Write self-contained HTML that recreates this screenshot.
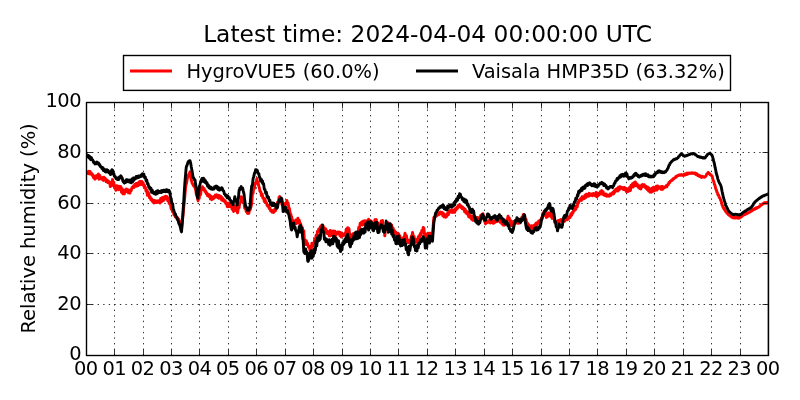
<!DOCTYPE html>
<html><head><meta charset="utf-8"><title>Relative humidity</title>
<style>
html,body{margin:0;padding:0;background:#fff;}
body{width:800px;height:400px;overflow:hidden;}
svg{display:block;}
text{font-family:"DejaVu Sans","Liberation Sans",sans-serif;fill:#000;}
.t{font-size:23.33px;}
.l{font-size:19.44px;}
.k{letter-spacing:-0.55px;}
</style></head><body>
<svg width="800" height="400" viewBox="0 0 800 400">
<rect width="800" height="400" fill="#fff"/>
<g stroke="#000" stroke-width="0.8" stroke-dasharray="1.39 4.17" fill="none"><line x1="114.50" y1="355.5" x2="114.50" y2="102.5"/><line x1="143.50" y1="355.5" x2="143.50" y2="102.5"/><line x1="171.50" y1="355.5" x2="171.50" y2="102.5"/><line x1="199.50" y1="355.5" x2="199.50" y2="102.5"/><line x1="228.50" y1="355.5" x2="228.50" y2="102.5"/><line x1="256.50" y1="355.5" x2="256.50" y2="102.5"/><line x1="285.50" y1="355.5" x2="285.50" y2="102.5"/><line x1="313.50" y1="355.5" x2="313.50" y2="102.5"/><line x1="342.50" y1="355.5" x2="342.50" y2="102.5"/><line x1="370.50" y1="355.5" x2="370.50" y2="102.5"/><line x1="398.50" y1="355.5" x2="398.50" y2="102.5"/><line x1="427.50" y1="355.5" x2="427.50" y2="102.5"/><line x1="455.50" y1="355.5" x2="455.50" y2="102.5"/><line x1="484.50" y1="355.5" x2="484.50" y2="102.5"/><line x1="512.50" y1="355.5" x2="512.50" y2="102.5"/><line x1="541.50" y1="355.5" x2="541.50" y2="102.5"/><line x1="569.50" y1="355.5" x2="569.50" y2="102.5"/><line x1="597.50" y1="355.5" x2="597.50" y2="102.5"/><line x1="626.50" y1="355.5" x2="626.50" y2="102.5"/><line x1="654.50" y1="355.5" x2="654.50" y2="102.5"/><line x1="683.50" y1="355.5" x2="683.50" y2="102.5"/><line x1="711.50" y1="355.5" x2="711.50" y2="102.5"/><line x1="740.50" y1="355.5" x2="740.50" y2="102.5"/><line x1="86.5" y1="304.50" x2="768.5" y2="304.50"/><line x1="86.5" y1="253.50" x2="768.5" y2="253.50"/><line x1="86.5" y1="203.50" x2="768.5" y2="203.50"/><line x1="86.5" y1="152.50" x2="768.5" y2="152.50"/></g>
<clipPath id="c"><rect x="86.5" y="102.5" width="682.0" height="253.0"/></clipPath>
<g clip-path="url(#c)" fill="none" stroke-width="2.9" stroke-linejoin="round" stroke-linecap="butt"><polyline stroke="#f00" points="86.5,172.0 87.5,172.1 87.9,173.6 88.6,171.3 89.3,173.9 90.0,171.5 90.7,174.1 91.2,172.8 92.1,175.2 92.8,174.6 93.5,177.8 94.4,177.9 94.9,179.1 95.6,175.9 96.3,178.2 97.0,175.4 97.5,176.7 98.4,173.9 99.1,179.2 99.8,175.4 100.5,178.7 101.2,177.8 101.9,179.2 102.6,177.5 103.3,180.5 104.0,177.2 105.0,179.8 105.4,178.3 106.1,181.6 106.8,179.8 107.5,182.5 108.2,180.8 108.8,182.8 109.6,182.0 110.3,186.5 111.2,185.9 111.7,185.8 112.5,179.5 113.1,183.7 113.8,182.3 114.5,187.9 115.0,186.9 115.9,190.3 116.6,185.7 117.3,189.0 118.0,186.1 118.7,189.7 119.4,186.3 120.0,188.5 120.8,186.6 121.5,192.3 122.2,188.6 122.9,193.7 123.8,192.5 124.3,193.9 125.0,189.9 125.7,191.8 126.4,189.0 126.9,189.7 127.8,189.6 128.5,192.9 129.4,192.7 129.9,193.1 130.6,189.6 131.3,190.5 132.0,187.5 132.5,187.8 133.4,185.9 134.1,187.5 134.8,184.3 135.5,186.2 136.2,183.5 136.9,186.2 137.5,183.3 138.3,185.6 139.0,181.9 139.7,184.6 140.4,181.3 141.1,184.7 141.8,181.4 142.5,182.7 143.2,182.9 143.9,186.4 144.6,185.5 145.0,187.7 145.3,187.0 146.0,190.9 146.7,190.0 147.4,195.3 148.1,192.0 148.4,195.6 148.8,193.1 149.5,197.8 150.2,196.7 150.9,199.9 151.6,198.8 152.5,201.6 153.0,200.2 153.7,203.0 154.4,200.4 155.1,202.4 155.8,200.9 156.5,202.6 157.2,201.1 157.5,202.1 157.9,201.0 158.6,202.1 159.3,200.4 160.0,203.0 160.7,198.5 161.4,201.9 162.1,197.6 162.5,199.7 162.8,197.5 163.5,200.5 164.2,196.9 164.9,199.1 165.6,196.1 166.2,197.3 167.0,196.5 167.7,200.7 168.4,198.2 169.1,203.4 169.4,200.7 169.8,204.0 170.5,204.9 171.2,209.0 171.9,208.9 172.5,211.7 173.3,211.0 174.0,215.0 174.7,213.4 175.4,216.9 176.2,216.6 176.8,218.5 177.5,217.7 178.2,220.4 178.9,219.3 179.6,221.8 180.0,221.4 180.3,223.5 181.0,226.1 181.5,229.1 182.4,220.3 183.0,215.0 183.8,206.8 184.5,200.1 185.2,191.8 185.6,187.6 185.9,185.5 186.6,182.7 187.5,177.4 188.0,176.6 188.7,174.6 189.4,173.5 190.0,171.8 190.8,177.8 191.2,179.9 192.2,183.3 193.1,184.8 193.6,186.1 194.3,186.1 195.0,187.6 195.7,190.1 196.4,194.8 196.9,196.0 198.1,200.9 198.5,197.7 199.2,198.5 200.0,193.2 200.6,194.7 201.3,187.8 202.0,189.1 202.5,186.7 203.4,189.7 204.1,188.5 205.0,191.5 205.5,190.7 206.2,193.8 206.9,192.8 207.6,195.8 208.3,194.3 208.8,196.5 209.7,195.0 210.4,198.9 211.1,196.1 211.8,199.7 212.5,198.0 213.2,198.8 213.9,196.4 214.6,197.7 215.3,195.1 216.2,195.8 216.7,194.8 217.4,197.5 218.1,195.4 218.8,198.3 219.5,195.6 220.0,197.8 220.9,196.4 221.6,200.1 222.3,197.6 223.0,200.6 223.8,199.6 224.4,201.6 225.1,200.6 225.8,203.6 226.5,202.7 227.2,206.4 227.5,204.6 227.9,206.8 228.6,203.2 229.3,206.5 230.0,203.1 230.7,206.6 231.2,204.6 232.1,209.3 233.1,209.8 233.5,211.5 234.2,205.7 235.0,206.6 235.6,206.3 236.3,210.8 237.0,209.5 237.6,212.9 238.4,207.7 239.1,207.8 239.7,203.1 240.5,202.6 241.2,196.6 241.9,200.5 242.6,197.7 243.1,201.6 244.0,202.5 244.7,208.2 245.4,207.0 246.2,211.5 246.8,210.5 247.5,213.4 248.2,211.4 248.8,213.4 249.6,209.7 250.3,209.7 251.2,206.0 251.7,203.6 252.5,193.1 253.1,193.4 253.8,186.4 254.5,188.3 255.0,183.3 255.9,183.6 256.9,178.5 257.3,181.6 258.0,182.0 258.8,186.3 259.4,187.8 260.0,191.6 260.8,191.7 261.5,195.7 262.2,194.0 262.9,198.2 263.8,198.3 264.3,201.4 265.0,199.0 265.7,202.8 266.4,202.5 267.1,205.4 267.5,204.8 267.8,206.3 268.5,205.4 269.2,208.6 269.9,207.8 270.6,210.8 271.2,210.4 272.0,212.1 272.7,210.6 273.4,212.6 273.8,211.7 274.1,211.9 274.8,209.0 275.5,210.7 276.2,207.2 276.9,207.5 277.6,202.2 278.3,203.3 279.0,197.5 279.4,198.6 279.7,196.4 280.4,201.2 281.1,200.6 281.8,204.3 282.5,203.9 283.2,207.1 283.8,207.3 284.6,206.5 285.3,203.3 286.0,204.4 286.9,200.4 287.4,204.0 288.1,202.9 288.8,207.6 289.4,208.6 290.2,213.2 290.9,214.5 291.2,217.2 291.6,216.5 292.3,220.7 293.0,220.4 293.8,224.2 294.4,221.3 295.1,223.9 295.8,220.0 296.5,223.5 296.9,220.0 297.2,223.0 297.9,218.3 298.8,221.2 299.3,220.2 300.0,225.3 300.7,223.7 301.2,226.9 302.1,227.2 302.8,230.2 303.8,230.7 304.2,237.8 305.0,241.6 305.6,244.6 306.3,240.8 307.0,244.6 307.5,243.2 308.4,247.1 309.1,246.2 310.0,250.5 310.5,246.2 311.2,249.8 311.9,243.1 312.6,246.4 313.1,243.8 314.0,243.4 314.7,239.0 315.6,238.8 316.1,235.2 316.8,236.2 317.5,231.2 318.2,231.8 318.8,228.9 319.6,229.2 320.3,226.8 321.0,228.6 321.7,225.3 322.5,226.3 323.1,225.7 323.8,231.1 324.5,227.9 325.0,231.4 325.9,228.9 326.6,233.3 327.3,231.2 328.0,233.9 328.8,233.1 329.4,235.9 330.1,230.5 330.8,235.9 331.5,231.0 332.2,234.7 332.5,232.3 332.9,235.0 333.6,230.9 334.3,235.4 335.0,231.1 335.7,235.5 336.2,233.0 337.1,234.0 337.8,232.1 338.8,233.0 339.2,232.0 339.9,235.8 340.6,232.4 341.3,237.0 342.0,233.7 342.5,236.2 343.4,234.0 344.1,235.3 345.0,233.2 345.5,234.3 346.2,229.2 346.9,232.2 347.6,227.6 348.5,228.2 349.0,228.9 349.7,234.7 350.6,236.8 351.1,238.6 351.8,234.7 352.5,238.0 353.2,233.6 353.8,235.8 354.6,233.2 355.3,235.9 356.0,232.1 356.7,235.3 357.5,232.2 358.1,232.7 358.8,227.2 359.5,228.3 360.2,223.1 360.6,223.8 361.6,222.1 362.3,225.0 363.0,221.3 363.7,224.5 364.4,220.7 365.0,223.2 365.8,221.0 366.5,223.2 367.2,220.7 367.9,224.6 368.6,219.2 369.3,223.3 370.0,220.5 370.7,224.5 371.4,221.1 372.1,227.3 372.8,224.0 373.1,227.7 373.5,223.2 374.2,227.0 374.9,219.6 375.6,221.4 376.3,219.5 377.0,225.3 377.7,222.7 378.4,226.3 378.8,225.7 379.1,226.3 379.8,223.8 380.5,225.0 381.2,220.9 381.9,222.9 382.5,220.5 383.3,227.9 384.0,227.6 384.8,235.9 385.4,228.8 386.1,229.2 386.9,223.1 387.5,225.6 388.2,222.7 388.9,226.1 389.6,223.7 390.0,225.6 390.3,224.5 391.0,228.9 391.7,225.0 392.4,231.0 393.1,227.9 393.8,231.3 394.5,230.5 395.2,235.5 395.9,232.2 396.9,236.6 397.3,233.2 398.0,239.0 398.7,234.0 399.4,238.1 400.0,236.0 400.8,240.9 401.5,238.3 402.2,244.4 402.5,243.1 402.9,244.3 403.6,237.4 404.3,237.8 405.0,233.1 405.7,237.5 406.4,235.5 407.1,241.2 407.5,240.6 407.8,242.5 408.5,240.2 409.2,242.8 410.0,241.9 410.6,241.4 411.3,236.1 412.0,236.2 412.5,232.4 413.4,236.8 414.1,236.6 414.8,240.8 415.6,241.9 416.2,242.3 416.9,239.3 417.6,240.8 418.3,236.7 419.0,238.9 419.7,235.1 420.0,236.4 420.4,233.5 421.1,234.9 421.8,230.5 422.5,231.9 423.2,227.4 423.5,228.2 423.9,228.1 424.6,234.8 425.3,233.7 425.6,237.7 426.0,234.6 426.7,238.3 427.4,233.7 428.1,237.1 428.8,233.2 429.5,235.0 430.0,233.2 430.9,235.8 431.6,234.5 432.5,236.2 433.0,228.2 433.8,217.8 434.4,216.7 435.1,217.0 435.8,215.1 436.5,216.0 437.2,213.6 437.5,214.7 437.9,213.2 438.6,214.8 439.3,212.4 440.0,214.0 440.7,212.1 441.2,212.8 442.1,212.5 442.8,215.8 443.5,213.3 444.2,216.9 444.9,214.6 445.6,217.3 446.3,214.8 447.0,216.3 447.7,212.7 448.4,214.6 449.1,211.2 450.0,211.6 450.5,210.2 451.2,212.3 451.9,210.0 452.6,212.4 453.3,210.0 454.0,212.3 454.4,211.0 454.7,212.4 455.4,208.6 456.1,209.9 456.8,207.2 457.5,208.5 458.2,205.5 458.9,206.7 459.4,204.7 460.3,206.8 461.0,205.9 461.7,208.4 462.4,206.8 463.1,209.0 463.8,208.1 464.5,211.5 465.2,209.1 465.9,213.0 466.9,211.5 467.3,214.0 468.0,212.2 468.7,216.7 469.4,214.4 470.0,217.4 470.8,215.7 471.5,219.2 472.2,216.2 472.9,220.3 473.8,218.6 474.3,220.4 475.0,217.8 475.7,220.7 476.4,217.7 477.1,220.7 477.8,217.5 478.5,221.5 479.4,219.0 479.9,221.0 480.6,215.5 481.3,217.6 482.0,214.3 482.7,215.7 483.1,213.7 484.1,219.9 485.0,222.3 485.5,223.9 486.2,221.0 486.9,222.6 487.6,221.1 488.3,222.3 489.0,220.6 489.7,222.5 490.0,220.4 490.4,223.1 491.1,219.1 491.8,222.5 492.5,220.7 493.2,223.3 493.9,221.0 494.4,222.9 495.3,220.7 496.0,221.8 496.7,219.5 497.4,221.6 498.1,217.7 498.8,218.6 499.5,218.2 500.2,222.2 500.9,219.7 501.9,223.8 502.3,221.8 503.0,225.0 503.7,223.0 504.4,225.2 505.0,224.3 505.8,223.4 506.5,219.8 507.2,220.0 508.1,216.1 508.6,219.3 509.3,217.9 510.0,221.7 510.7,220.5 511.4,225.8 511.9,224.1 512.8,225.4 513.5,221.4 514.2,224.1 514.9,220.9 515.6,222.8 516.2,220.4 517.0,223.1 517.7,219.7 518.4,223.4 519.1,220.7 520.0,223.0 520.5,220.7 521.2,220.9 521.9,217.1 522.6,217.6 523.3,214.5 523.8,214.5 524.7,216.4 525.4,221.7 526.1,219.4 526.9,224.7 527.5,223.2 528.2,226.0 528.9,224.8 529.6,226.9 530.0,226.2 531.0,228.0 531.7,225.7 532.4,228.6 533.1,226.1 533.8,228.0 534.5,224.9 535.2,227.1 535.9,223.3 536.6,225.2 537.5,222.5 538.0,223.4 538.7,221.0 539.4,222.6 540.1,220.2 540.6,221.0 541.5,217.7 542.2,218.6 542.9,213.2 543.8,213.3 544.3,211.2 545.0,215.5 545.7,212.7 546.4,217.5 546.9,215.2 547.8,216.5 548.5,212.9 549.2,215.4 550.0,212.9 550.6,216.2 551.3,213.1 552.0,218.3 552.7,215.4 553.1,218.6 554.1,218.5 554.8,222.5 555.5,221.1 556.2,223.7 556.9,221.5 557.6,223.5 558.3,220.4 559.0,221.8 560.0,220.0 560.4,221.3 561.1,219.6 561.8,221.2 562.5,219.9 563.1,220.9 563.9,219.9 564.6,221.3 565.3,219.0 566.2,219.7 566.7,218.5 567.4,219.8 568.1,216.8 568.8,218.5 569.4,216.8 570.2,217.4 570.9,213.6 571.6,215.4 572.5,212.2 573.0,213.0 573.7,209.8 574.4,210.7 575.1,207.3 575.8,209.3 576.2,206.3 577.2,207.0 577.9,201.9 578.6,203.0 579.3,200.2 580.0,199.7 580.7,198.4 581.4,200.4 582.1,196.7 582.8,199.1 583.8,196.7 584.2,198.6 584.9,195.3 585.6,197.6 586.3,194.2 587.0,196.2 587.5,194.5 588.4,196.2 589.1,193.3 589.8,195.7 590.5,194.0 591.2,195.2 591.9,194.1 592.6,195.7 593.3,193.4 594.0,195.1 595.0,193.8 595.4,195.9 596.1,192.4 596.8,196.9 597.5,193.2 598.1,195.8 598.9,193.8 599.6,194.5 600.3,191.7 601.2,191.9 601.7,190.5 602.4,194.3 603.1,191.7 603.8,195.0 604.5,193.8 605.0,195.6 605.9,194.0 606.6,196.2 607.3,194.7 608.0,196.1 608.8,195.4 609.4,196.1 610.1,194.1 610.8,195.5 611.5,193.5 612.5,194.1 612.9,192.2 613.6,193.9 614.3,190.8 615.0,192.2 615.7,189.3 616.2,190.3 617.1,188.5 617.8,191.1 618.5,187.3 619.2,189.9 619.9,186.6 620.6,188.5 621.2,187.3 622.0,188.5 622.7,187.5 623.4,189.6 624.1,187.5 625.0,189.7 625.5,188.1 626.2,191.4 626.9,188.7 627.6,191.9 628.3,188.9 628.8,191.0 629.7,187.1 630.4,190.6 631.1,185.3 631.9,186.6 632.5,183.7 633.2,187.1 633.9,182.8 634.6,185.9 635.3,181.9 635.6,184.3 636.0,182.7 636.7,185.9 637.4,184.4 638.1,187.2 638.8,185.5 639.5,188.5 640.0,187.1 640.9,188.9 641.6,185.0 642.3,187.0 643.0,184.6 643.8,185.2 644.4,184.8 645.1,187.4 645.8,186.1 646.5,188.8 646.9,187.9 647.2,189.6 647.9,187.1 648.6,191.0 649.3,188.2 650.0,192.0 650.6,190.1 651.4,192.2 652.1,188.3 652.8,191.4 653.5,187.1 654.2,190.8 655.0,187.7 655.6,190.0 656.3,186.2 657.0,190.0 657.7,185.9 658.4,188.7 659.1,186.9 660.0,187.8 660.5,186.8 661.2,189.4 661.9,186.4 662.6,189.3 663.3,186.9 663.8,188.2 664.7,186.9 665.4,187.3 666.1,185.7 666.8,186.7 667.5,184.8 668.2,184.9 668.9,182.5 669.6,182.9 670.3,181.3 671.2,180.7 671.7,179.9 672.4,180.2 673.1,178.7 673.8,178.9 674.4,178.0 675.2,177.9 675.9,176.5 676.6,176.9 677.3,175.6 678.0,175.8 678.8,174.9 679.4,175.3 680.1,174.7 680.8,175.3 681.5,174.6 682.2,175.4 682.9,174.7 683.8,175.1 684.3,174.1 685.0,175.1 685.7,173.8 686.4,174.5 687.1,173.1 687.8,174.1 688.8,173.0 689.2,173.4 689.9,172.9 690.6,173.4 691.3,172.8 692.0,173.4 692.7,172.8 693.4,173.4 694.4,173.0 694.8,173.8 695.5,173.1 696.2,174.6 696.9,173.9 697.6,175.5 698.1,174.8 699.0,176.2 699.7,175.5 700.6,177.0 701.1,176.3 701.8,177.4 702.5,176.4 703.2,177.1 703.9,176.7 704.6,177.2 705.0,176.8 706.0,176.1 706.7,173.9 707.4,174.0 708.1,172.4 708.8,173.6 709.5,173.4 710.2,174.8 710.9,174.6 711.9,176.1 712.3,176.5 713.0,180.0 713.7,181.2 714.4,184.1 715.1,185.8 715.8,188.8 716.5,190.4 716.9,192.1 717.2,192.1 717.9,194.9 718.6,195.0 719.3,197.7 720.0,198.1 720.6,200.1 721.4,201.8 722.1,205.1 722.8,206.1 723.1,207.6 723.5,207.6 724.2,209.4 724.9,209.8 725.6,211.5 726.3,211.8 726.9,213.2 727.7,213.6 728.4,214.7 729.1,214.8 729.8,215.8 730.5,216.0 731.2,217.0 731.9,216.7 732.6,217.7 733.3,216.8 734.0,217.9 735.0,217.4 735.4,218.1 736.1,216.9 736.8,217.9 737.5,216.9 738.2,218.2 738.9,217.0 739.6,218.0 740.0,217.4 741.0,217.1 741.7,216.1 742.4,216.1 743.1,215.2 743.8,215.1 744.5,214.3 745.2,214.6 745.9,213.4 746.6,213.8 747.3,212.9 748.0,213.1 748.8,212.4 749.4,212.4 750.1,211.4 750.8,211.5 751.5,210.4 752.2,210.8 752.9,209.5 753.8,209.5 754.3,208.7 755.0,209.2 755.7,208.1 756.4,208.5 757.1,207.4 757.8,207.7 758.8,206.8 759.2,206.9 759.9,205.8 760.6,205.7 761.3,204.7 762.0,204.7 762.7,203.7 763.4,203.7 763.8,203.0 764.1,203.4 764.8,202.6 765.5,203.2 766.2,202.5 766.9,203.1 767.6,202.3 768.0,202.5"/>
<polyline stroke="#000" points="86.5,154.5 87.5,155.3 87.9,157.0 88.6,155.5 89.3,158.2 90.0,156.5 90.7,159.7 91.4,157.6 91.9,159.6 92.8,160.1 93.5,162.4 94.2,161.9 95.0,163.9 95.6,162.7 96.3,163.8 97.0,162.1 97.5,162.6 98.4,162.8 99.1,165.0 99.8,164.6 100.5,166.7 101.2,166.7 101.9,168.5 102.6,167.5 103.3,170.5 104.0,168.9 105.0,171.6 105.4,170.0 106.1,172.1 106.8,169.7 107.5,171.8 108.0,170.4 108.9,172.7 109.6,172.1 110.6,174.6 111.0,171.8 111.9,169.7 112.4,169.8 113.1,173.9 113.8,173.4 114.4,176.4 115.2,176.4 115.9,178.4 116.6,177.8 117.5,179.6 118.0,177.9 118.7,179.6 119.4,176.9 120.1,177.8 120.8,175.8 121.2,176.4 122.2,178.1 122.9,181.1 123.8,182.3 124.3,183.1 125.0,180.9 125.7,182.4 126.4,179.7 127.1,181.6 127.5,179.8 128.5,181.8 129.2,180.1 130.0,182.2 130.6,180.3 131.3,182.8 132.0,178.9 132.7,181.8 133.4,177.9 134.1,180.0 135.0,177.8 135.5,178.7 136.2,176.4 136.9,178.1 137.6,176.2 138.3,177.6 139.0,175.9 139.7,176.9 140.0,176.1 140.4,176.6 141.1,175.0 141.8,176.3 142.5,173.8 143.2,175.7 143.8,174.1 144.6,177.8 145.3,177.0 146.2,181.1 146.7,179.8 147.4,183.8 148.1,183.7 148.8,187.2 149.5,186.9 150.0,189.2 150.9,188.1 151.6,192.2 152.3,190.1 153.0,193.0 153.8,193.0 154.4,193.7 155.1,192.3 155.8,194.3 156.5,191.2 157.2,193.7 157.9,190.7 158.6,192.7 159.3,191.4 160.0,192.1 160.7,191.0 161.4,192.6 162.1,190.6 162.8,191.8 163.5,190.2 164.2,191.6 165.0,190.4 165.6,191.7 166.3,189.7 167.0,191.6 167.7,190.1 168.4,192.0 169.1,190.4 169.4,191.6 169.8,191.8 170.5,196.9 171.2,198.8 171.9,203.5 172.6,203.6 173.3,209.3 173.8,210.2 174.7,213.6 175.4,213.8 176.1,216.9 176.8,217.4 177.5,219.6 178.2,220.8 178.9,223.6 179.6,224.6 180.0,226.1 180.3,226.9 181.0,230.3 181.5,231.9 182.5,220.1 183.1,210.0 183.8,200.1 184.5,188.4 185.0,181.3 185.9,171.0 186.2,167.6 186.6,166.2 187.3,164.7 188.1,161.8 188.7,161.9 189.4,160.7 190.0,160.7 190.8,163.8 191.2,166.4 192.2,171.7 193.1,177.6 193.6,177.6 194.3,179.7 195.0,179.8 195.7,184.9 196.2,187.3 197.1,194.8 197.8,198.3 198.5,193.3 199.4,186.1 199.9,185.0 200.6,181.8 201.2,180.4 202.0,178.5 202.7,181.3 203.4,178.2 203.8,179.6 204.1,178.8 204.8,182.3 205.5,180.6 206.2,183.4 206.9,182.6 207.6,186.1 208.3,184.7 209.0,187.9 209.7,186.5 210.0,188.4 210.4,187.0 211.1,189.0 211.8,187.7 212.5,189.3 213.1,188.6 213.9,189.1 214.6,186.7 215.3,187.8 216.2,186.0 216.7,188.2 217.4,186.5 218.1,189.6 218.8,187.6 219.4,190.2 220.2,188.8 220.9,189.4 221.6,187.7 221.9,188.2 222.3,188.4 223.0,190.7 223.7,191.1 224.4,193.8 225.0,194.3 225.8,196.0 226.5,195.1 227.2,197.8 227.9,196.0 228.8,198.4 229.3,197.7 230.0,200.2 230.7,200.4 231.4,202.5 232.1,202.3 233.1,204.7 233.5,201.5 234.2,200.6 234.8,196.7 235.6,200.9 236.3,200.9 237.2,205.2 237.7,200.4 238.4,197.9 239.1,190.3 239.4,190.4 239.8,188.2 240.5,189.2 241.2,186.6 241.9,188.9 242.6,188.1 243.1,190.4 244.0,193.9 244.7,200.3 245.6,205.9 246.1,207.9 246.8,207.5 247.5,210.3 248.1,210.4 248.9,210.2 249.6,207.2 250.0,207.7 250.3,202.5 251.2,190.3 251.7,185.9 252.4,185.2 253.1,178.6 253.8,176.4 254.5,173.1 255.2,172.1 255.6,169.8 255.9,170.7 256.6,169.8 257.0,170.5 257.3,170.4 258.0,173.3 258.8,173.6 259.4,176.9 260.1,177.9 260.6,181.0 261.5,179.5 262.2,182.7 262.5,180.9 262.9,183.8 263.6,183.8 264.3,189.1 265.0,189.7 265.7,193.1 266.4,192.2 267.1,196.8 267.5,195.9 267.8,197.7 268.5,197.2 269.2,200.7 269.9,200.3 270.6,204.2 271.2,203.4 272.0,205.5 272.7,203.0 273.4,205.6 274.1,203.5 275.0,205.2 275.5,204.6 276.2,208.4 276.9,208.4 277.6,207.0 278.3,202.0 278.8,201.5 279.7,199.2 280.4,201.2 281.1,197.8 281.9,199.1 282.5,203.5 283.1,211.6 283.9,208.8 284.6,211.0 285.3,207.0 285.6,208.4 286.0,207.6 286.7,212.0 287.4,210.4 288.1,213.5 288.8,214.2 289.5,218.2 290.2,221.2 290.6,225.3 291.2,229.1 291.6,230.0 292.3,223.8 293.1,224.2 293.7,222.9 294.4,228.4 295.1,227.0 295.6,230.4 296.5,231.7 297.2,236.8 297.9,231.3 298.8,229.9 299.3,226.8 300.0,232.1 300.7,225.5 301.4,232.0 301.9,227.9 302.8,239.3 303.1,239.4 303.8,251.8 304.2,249.4 304.9,253.5 305.6,248.9 306.2,251.3 307.0,252.6 307.7,260.9 308.1,261.4 309.1,258.7 310.0,252.8 310.5,257.0 311.2,250.7 311.9,258.3 312.5,255.4 313.3,256.2 314.0,249.2 314.7,253.0 315.0,247.8 315.4,250.2 316.1,240.6 316.8,245.8 317.5,237.8 318.2,241.0 318.9,235.7 319.6,240.2 320.0,236.9 320.3,238.8 321.0,229.9 321.7,231.6 322.5,225.0 323.1,231.9 323.8,232.3 324.4,239.3 325.2,237.9 325.9,241.8 326.6,239.1 327.5,241.7 328.0,240.1 328.7,244.4 329.4,239.8 330.1,245.2 330.8,241.0 331.2,244.0 332.2,239.1 332.9,243.7 333.6,236.1 334.3,240.5 335.0,237.0 335.7,241.3 336.4,238.5 337.1,245.8 337.5,241.5 337.8,247.3 338.5,240.7 339.2,248.4 339.9,244.9 340.6,251.6 341.2,249.3 342.0,249.8 342.7,242.7 343.4,244.7 343.8,240.7 344.1,243.7 345.0,239.3 345.5,242.2 346.2,236.4 346.9,241.6 347.6,234.3 348.1,238.1 349.0,238.1 349.7,245.7 350.0,244.4 350.4,246.9 351.1,240.1 351.8,243.8 352.5,239.5 353.2,240.6 353.9,235.7 354.6,239.4 355.3,232.9 355.6,235.9 356.0,232.2 356.7,238.9 357.4,231.9 358.1,238.3 358.8,235.4 359.5,237.6 360.2,230.3 360.9,234.5 361.9,229.3 362.3,232.4 363.0,229.5 363.8,233.2 364.4,228.4 365.1,232.0 365.8,224.1 366.5,228.1 366.9,223.1 367.2,226.9 367.9,221.7 368.6,230.1 369.4,226.9 370.0,228.0 370.6,221.6 371.4,227.6 372.1,222.6 372.8,230.2 373.1,227.9 373.5,230.9 374.2,224.2 374.9,228.7 375.6,222.5 376.3,227.0 376.9,222.4 377.7,232.0 378.1,232.6 379.1,232.1 379.8,226.9 380.5,228.1 381.2,224.6 381.9,227.7 382.6,225.9 383.3,231.6 384.0,226.5 384.4,232.2 384.7,227.2 385.4,229.7 386.2,221.0 386.8,228.4 387.5,223.4 388.2,232.4 388.8,230.5 389.6,231.6 390.3,223.8 390.6,227.1 391.0,225.1 391.7,234.2 392.4,230.1 393.1,236.6 393.8,235.5 394.5,240.0 395.2,237.8 395.9,243.6 396.2,240.6 396.6,243.8 397.3,236.5 398.0,241.5 398.8,235.9 399.4,244.0 400.1,239.6 400.6,246.0 401.5,242.0 402.2,245.5 402.9,240.2 403.6,243.2 404.4,239.4 405.0,245.2 405.7,243.8 406.2,249.6 407.1,247.4 407.8,253.4 408.1,250.3 408.5,254.8 409.2,246.3 409.9,250.5 410.6,245.4 411.3,245.1 412.0,237.0 412.5,236.9 413.4,239.1 414.4,246.7 414.8,245.6 415.5,250.5 416.2,250.2 416.9,251.0 417.6,244.6 418.3,247.8 418.8,243.0 419.7,244.0 420.4,240.3 421.2,241.7 421.8,238.7 422.5,241.2 423.2,236.7 423.8,238.0 424.6,239.5 425.3,248.1 426.0,246.8 426.7,247.8 427.4,238.8 428.1,240.3 428.8,236.3 429.5,243.0 430.2,236.1 430.6,240.9 431.6,239.5 432.5,241.2 433.0,233.1 433.8,223.1 434.4,219.3 435.1,216.0 435.6,212.9 436.5,211.9 437.2,210.1 437.9,209.8 438.8,208.0 439.3,208.2 440.0,206.7 440.7,207.3 441.4,205.9 442.1,207.0 442.5,205.3 442.8,207.4 443.5,205.3 444.2,208.8 444.9,207.6 445.6,209.6 446.3,207.7 447.0,209.9 447.7,205.9 448.4,208.1 448.8,205.9 449.1,207.1 449.8,205.1 450.5,206.8 451.2,204.8 451.9,207.2 452.5,205.2 453.3,206.2 454.0,202.6 454.7,204.7 455.4,201.0 456.2,201.5 456.8,198.8 457.5,200.2 458.2,196.2 458.9,197.7 459.6,193.8 460.0,194.6 460.3,194.2 461.0,196.9 461.7,197.3 462.5,199.8 463.1,198.6 463.8,201.5 464.5,199.2 465.2,202.2 465.9,199.9 466.2,201.6 466.6,200.5 467.3,204.9 468.0,204.1 468.8,207.2 469.4,207.2 470.1,211.9 470.6,211.6 471.5,212.7 472.2,209.2 473.1,210.4 473.6,210.8 474.4,217.3 475.0,216.4 475.7,221.5 476.4,219.6 476.9,223.0 477.8,221.1 478.5,224.2 479.4,222.8 479.9,222.8 480.6,218.6 481.3,218.6 482.0,214.9 482.5,214.6 483.4,216.0 484.1,219.1 485.0,220.4 485.5,220.5 486.2,217.3 486.9,217.1 487.6,213.9 488.1,214.0 489.0,214.8 489.7,217.6 490.6,218.6 491.1,219.3 491.8,217.6 492.5,218.3 493.2,216.7 493.9,217.5 494.6,215.7 495.0,216.5 495.3,215.8 496.0,219.3 496.9,219.7 497.4,220.3 498.1,216.2 498.8,217.8 499.4,214.6 500.2,217.2 500.9,216.2 501.9,219.0 502.3,218.3 503.0,221.7 503.7,219.5 504.4,223.0 505.0,222.0 505.8,224.1 506.5,221.4 507.2,224.5 507.5,222.8 507.9,225.9 508.6,224.4 509.3,228.9 510.0,229.0 510.7,231.2 511.4,229.7 512.1,232.5 512.5,231.7 513.5,228.8 514.2,224.8 515.0,222.7 515.6,220.3 516.3,221.1 516.9,217.8 517.7,220.4 518.4,218.9 519.4,221.5 519.8,219.4 520.5,222.5 521.2,218.9 521.9,220.8 522.5,219.8 523.3,218.2 524.0,214.9 524.4,214.7 524.7,215.4 525.4,222.8 526.2,227.3 526.8,229.4 527.5,227.0 528.2,230.6 528.9,228.4 529.4,230.8 530.3,230.5 531.0,232.6 531.7,231.5 532.5,233.3 533.1,231.3 533.8,231.7 534.5,228.7 535.0,229.1 535.9,227.4 536.6,230.2 537.3,227.9 538.1,229.7 538.7,227.1 539.4,228.3 540.1,225.1 540.6,225.3 541.5,220.0 542.5,216.5 542.9,214.4 543.6,214.5 544.3,211.5 545.0,210.7 545.7,209.4 546.4,210.4 547.1,208.1 547.5,209.0 548.5,204.9 549.4,203.4 549.9,204.4 550.6,209.3 551.2,211.0 552.0,211.4 552.7,208.3 553.1,209.0 554.1,214.5 555.0,221.5 555.5,221.9 556.2,226.9 556.9,226.7 557.5,230.9 558.3,226.7 559.0,227.3 559.4,224.0 559.7,225.4 560.4,225.1 561.1,227.1 561.9,227.3 562.5,224.9 563.2,219.4 563.8,217.1 564.6,215.5 565.3,217.4 566.2,214.7 566.7,215.2 567.4,210.9 568.1,210.7 568.8,208.1 569.5,207.7 570.0,205.4 570.9,208.2 571.9,207.9 572.3,208.5 573.0,204.7 573.7,205.5 574.4,201.9 575.0,202.2 575.8,198.2 576.5,199.3 577.5,194.7 577.9,195.8 578.6,191.4 579.3,192.7 580.0,190.2 580.7,190.9 581.4,188.5 582.1,190.5 582.8,187.2 583.8,188.5 584.2,186.6 584.9,188.2 585.6,185.2 586.2,185.8 587.0,184.0 587.7,185.4 588.4,183.2 589.4,183.3 589.8,182.8 590.5,184.7 591.2,184.1 591.9,185.7 592.6,184.5 593.3,185.7 594.0,183.8 594.4,184.6 594.7,183.8 595.4,186.6 596.1,185.0 596.9,187.1 597.5,185.1 598.2,186.3 598.9,184.4 599.4,184.5 600.3,183.1 601.0,183.7 601.9,182.4 602.4,183.4 603.1,183.3 603.8,185.6 604.5,184.0 605.0,185.8 605.9,185.4 606.6,188.0 607.3,187.1 608.1,189.0 608.7,187.5 609.4,187.9 610.1,186.4 610.6,186.4 611.5,186.4 612.5,187.6 612.9,186.3 613.6,185.8 614.3,183.5 615.0,183.0 615.6,181.0 616.4,180.9 617.1,178.5 617.8,179.3 618.8,177.3 619.2,177.9 619.9,175.8 620.6,177.0 621.3,174.7 621.9,175.3 622.7,174.2 623.4,176.2 624.4,175.4 624.8,176.0 625.5,173.1 626.2,173.3 626.9,173.9 627.6,176.9 628.3,177.1 628.8,178.9 629.7,177.8 630.4,178.3 631.1,177.2 631.8,178.0 632.5,176.7 633.2,176.8 633.9,174.8 634.6,175.4 635.3,173.5 635.6,173.9 636.0,173.4 636.7,175.2 637.4,174.7 638.1,176.4 638.8,175.8 639.4,177.0 640.2,175.9 640.9,176.3 641.6,175.0 642.3,175.6 643.1,174.3 643.7,175.1 644.4,174.0 645.1,175.4 645.8,173.8 646.5,175.6 646.9,174.8 647.2,175.8 647.9,174.8 648.6,176.8 649.3,175.7 650.0,177.0 650.7,176.3 651.4,176.9 652.1,176.1 652.8,176.8 653.1,176.1 653.5,176.6 654.2,174.6 654.9,175.2 655.6,173.0 656.2,173.2 657.0,172.0 657.7,172.6 658.4,170.9 658.8,171.4 659.1,170.8 659.8,172.1 660.5,171.4 661.2,172.6 661.9,171.7 662.5,172.6 663.3,172.0 664.0,172.6 664.7,171.8 665.6,172.0 666.1,170.9 666.8,170.4 667.5,168.9 668.2,167.8 668.9,165.4 669.6,164.9 670.0,163.4 671.0,162.5 671.7,161.4 672.4,161.0 673.1,160.0 673.8,159.8 674.5,159.2 675.2,159.3 675.9,158.7 676.6,158.8 677.5,158.0 678.0,157.7 678.7,156.5 679.4,156.2 680.1,154.8 680.8,154.6 681.2,153.7 682.2,154.8 682.9,154.7 683.6,155.9 684.4,156.2 685.0,156.3 685.7,155.6 686.4,155.8 687.1,155.2 687.8,155.3 688.1,155.0 688.5,155.0 689.2,154.4 689.9,154.5 690.6,153.8 691.2,153.8 692.0,153.6 692.7,154.0 693.4,153.4 694.4,153.8 694.8,153.9 695.5,154.9 696.2,155.0 696.9,156.0 697.5,156.2 698.3,156.7 699.0,156.5 699.7,157.2 700.4,157.0 701.2,157.6 701.8,157.3 702.5,157.9 703.2,157.5 703.9,158.1 704.6,157.9 705.0,158.1 706.0,156.5 706.7,155.7 707.5,154.4 708.1,154.2 708.8,153.6 709.5,153.5 710.0,153.1 710.9,154.2 711.6,154.7 712.2,155.6 713.0,158.3 713.7,161.2 714.4,163.7 715.1,167.4 715.8,170.5 716.2,173.0 717.2,176.2 717.9,179.1 718.5,180.9 719.3,182.8 720.0,183.8 721.0,186.0 721.4,187.8 722.1,191.5 722.8,194.6 723.1,196.3 723.5,197.5 724.2,200.3 724.9,202.4 725.6,205.0 726.3,206.2 727.0,207.9 727.7,209.0 728.4,210.7 728.8,211.2 729.1,211.6 729.8,212.0 730.5,212.8 731.2,213.2 731.9,214.0 732.5,214.4 733.3,214.6 734.0,214.3 734.7,214.6 735.4,214.2 736.2,214.4 736.8,214.4 737.5,214.7 738.2,214.6 738.9,214.9 739.6,214.8 740.0,215.0 741.0,214.1 741.7,213.8 742.4,212.9 743.1,212.5 743.8,211.9 744.5,211.7 745.2,210.9 745.9,210.8 746.9,210.0 747.3,209.9 748.0,209.2 748.7,209.1 749.4,208.4 750.1,208.4 750.8,207.5 751.2,207.6 752.2,205.9 752.9,205.3 753.6,203.7 754.3,203.1 755.0,201.8 755.7,201.4 756.4,200.6 757.1,200.2 757.8,199.4 758.8,198.8 759.2,198.3 759.9,198.2 760.6,197.3 761.3,197.2 762.0,196.4 762.5,196.3 763.4,195.6 764.1,195.7 764.8,195.2 765.5,195.1 766.2,194.6 766.9,194.6 767.6,194.0 768.0,194.0"/></g>
<g stroke="#000" stroke-width="0.8"><line x1="86.50" y1="355.5" x2="86.50" y2="349.5"/><line x1="86.50" y1="102.5" x2="86.50" y2="108.5"/><line x1="114.50" y1="355.5" x2="114.50" y2="349.5"/><line x1="114.50" y1="102.5" x2="114.50" y2="108.5"/><line x1="143.50" y1="355.5" x2="143.50" y2="349.5"/><line x1="143.50" y1="102.5" x2="143.50" y2="108.5"/><line x1="171.50" y1="355.5" x2="171.50" y2="349.5"/><line x1="171.50" y1="102.5" x2="171.50" y2="108.5"/><line x1="199.50" y1="355.5" x2="199.50" y2="349.5"/><line x1="199.50" y1="102.5" x2="199.50" y2="108.5"/><line x1="228.50" y1="355.5" x2="228.50" y2="349.5"/><line x1="228.50" y1="102.5" x2="228.50" y2="108.5"/><line x1="256.50" y1="355.5" x2="256.50" y2="349.5"/><line x1="256.50" y1="102.5" x2="256.50" y2="108.5"/><line x1="285.50" y1="355.5" x2="285.50" y2="349.5"/><line x1="285.50" y1="102.5" x2="285.50" y2="108.5"/><line x1="313.50" y1="355.5" x2="313.50" y2="349.5"/><line x1="313.50" y1="102.5" x2="313.50" y2="108.5"/><line x1="342.50" y1="355.5" x2="342.50" y2="349.5"/><line x1="342.50" y1="102.5" x2="342.50" y2="108.5"/><line x1="370.50" y1="355.5" x2="370.50" y2="349.5"/><line x1="370.50" y1="102.5" x2="370.50" y2="108.5"/><line x1="398.50" y1="355.5" x2="398.50" y2="349.5"/><line x1="398.50" y1="102.5" x2="398.50" y2="108.5"/><line x1="427.50" y1="355.5" x2="427.50" y2="349.5"/><line x1="427.50" y1="102.5" x2="427.50" y2="108.5"/><line x1="455.50" y1="355.5" x2="455.50" y2="349.5"/><line x1="455.50" y1="102.5" x2="455.50" y2="108.5"/><line x1="484.50" y1="355.5" x2="484.50" y2="349.5"/><line x1="484.50" y1="102.5" x2="484.50" y2="108.5"/><line x1="512.50" y1="355.5" x2="512.50" y2="349.5"/><line x1="512.50" y1="102.5" x2="512.50" y2="108.5"/><line x1="541.50" y1="355.5" x2="541.50" y2="349.5"/><line x1="541.50" y1="102.5" x2="541.50" y2="108.5"/><line x1="569.50" y1="355.5" x2="569.50" y2="349.5"/><line x1="569.50" y1="102.5" x2="569.50" y2="108.5"/><line x1="597.50" y1="355.5" x2="597.50" y2="349.5"/><line x1="597.50" y1="102.5" x2="597.50" y2="108.5"/><line x1="626.50" y1="355.5" x2="626.50" y2="349.5"/><line x1="626.50" y1="102.5" x2="626.50" y2="108.5"/><line x1="654.50" y1="355.5" x2="654.50" y2="349.5"/><line x1="654.50" y1="102.5" x2="654.50" y2="108.5"/><line x1="683.50" y1="355.5" x2="683.50" y2="349.5"/><line x1="683.50" y1="102.5" x2="683.50" y2="108.5"/><line x1="711.50" y1="355.5" x2="711.50" y2="349.5"/><line x1="711.50" y1="102.5" x2="711.50" y2="108.5"/><line x1="740.50" y1="355.5" x2="740.50" y2="349.5"/><line x1="740.50" y1="102.5" x2="740.50" y2="108.5"/><line x1="768.50" y1="355.5" x2="768.50" y2="349.5"/><line x1="768.50" y1="102.5" x2="768.50" y2="108.5"/><line x1="86.5" y1="355.50" x2="92.5" y2="355.50"/><line x1="768.5" y1="355.50" x2="762.5" y2="355.50"/><line x1="86.5" y1="304.50" x2="92.5" y2="304.50"/><line x1="768.5" y1="304.50" x2="762.5" y2="304.50"/><line x1="86.5" y1="253.50" x2="92.5" y2="253.50"/><line x1="768.5" y1="253.50" x2="762.5" y2="253.50"/><line x1="86.5" y1="203.50" x2="92.5" y2="203.50"/><line x1="768.5" y1="203.50" x2="762.5" y2="203.50"/><line x1="86.5" y1="152.50" x2="92.5" y2="152.50"/><line x1="768.5" y1="152.50" x2="762.5" y2="152.50"/><line x1="86.5" y1="102.50" x2="92.5" y2="102.50"/><line x1="768.5" y1="102.50" x2="762.5" y2="102.50"/></g>
<line x1="768.1" y1="102.5" x2="768.1" y2="355.5" stroke="#008000" stroke-opacity="0.45" stroke-width="1.6"/>
<rect x="86.5" y="102.5" width="682.0" height="253.0" fill="none" stroke="#000" stroke-width="1.39"/>
<text class="l k" x="85.80" y="374.8" text-anchor="middle">00</text><text class="l k" x="114.22" y="374.8" text-anchor="middle">01</text><text class="l k" x="142.63" y="374.8" text-anchor="middle">02</text><text class="l k" x="171.05" y="374.8" text-anchor="middle">03</text><text class="l k" x="199.47" y="374.8" text-anchor="middle">04</text><text class="l k" x="227.88" y="374.8" text-anchor="middle">05</text><text class="l k" x="256.30" y="374.8" text-anchor="middle">06</text><text class="l k" x="284.72" y="374.8" text-anchor="middle">07</text><text class="l k" x="313.13" y="374.8" text-anchor="middle">08</text><text class="l k" x="341.55" y="374.8" text-anchor="middle">09</text><text class="l k" x="369.97" y="374.8" text-anchor="middle">10</text><text class="l k" x="398.38" y="374.8" text-anchor="middle">11</text><text class="l k" x="426.80" y="374.8" text-anchor="middle">12</text><text class="l k" x="455.22" y="374.8" text-anchor="middle">13</text><text class="l k" x="483.63" y="374.8" text-anchor="middle">14</text><text class="l k" x="512.05" y="374.8" text-anchor="middle">15</text><text class="l k" x="540.47" y="374.8" text-anchor="middle">16</text><text class="l k" x="568.88" y="374.8" text-anchor="middle">17</text><text class="l k" x="597.30" y="374.8" text-anchor="middle">18</text><text class="l k" x="625.72" y="374.8" text-anchor="middle">19</text><text class="l k" x="654.13" y="374.8" text-anchor="middle">20</text><text class="l k" x="682.55" y="374.8" text-anchor="middle">21</text><text class="l k" x="710.97" y="374.8" text-anchor="middle">22</text><text class="l k" x="739.38" y="374.8" text-anchor="middle">23</text><text class="l k" x="767.80" y="374.8" text-anchor="middle">00</text>
<text class="l k" x="81.0" y="360.40" text-anchor="end">0</text><text class="l k" x="81.0" y="309.80" text-anchor="end">20</text><text class="l k" x="81.0" y="259.20" text-anchor="end">40</text><text class="l k" x="81.0" y="208.60" text-anchor="end">60</text><text class="l k" x="81.0" y="158.00" text-anchor="end">80</text><text class="l k" x="81.0" y="107.40" text-anchor="end">100</text>
<text class="l" transform="translate(35,228.4) rotate(-90)" text-anchor="middle">Relative humidity (%)</text>
<text class="t" x="427.6" y="41.5" text-anchor="middle">Latest time: 2024-04-04 00:00:00 UTC</text>
<rect x="123.5" y="55.5" width="607" height="34.9" fill="#fff" stroke="#000" stroke-width="1.39"/>
<line x1="130" y1="71" x2="172" y2="71" stroke="#f00" stroke-width="2.8"/><text class="l" x="186.4" y="77.9">HygroVUE5 (60.0%)</text>
<line x1="416" y1="71" x2="458" y2="71" stroke="#000" stroke-width="2.8"/><text class="l" x="471.9" y="77.9">Vaisala HMP35D (63.32%)</text>
</svg></body></html>
